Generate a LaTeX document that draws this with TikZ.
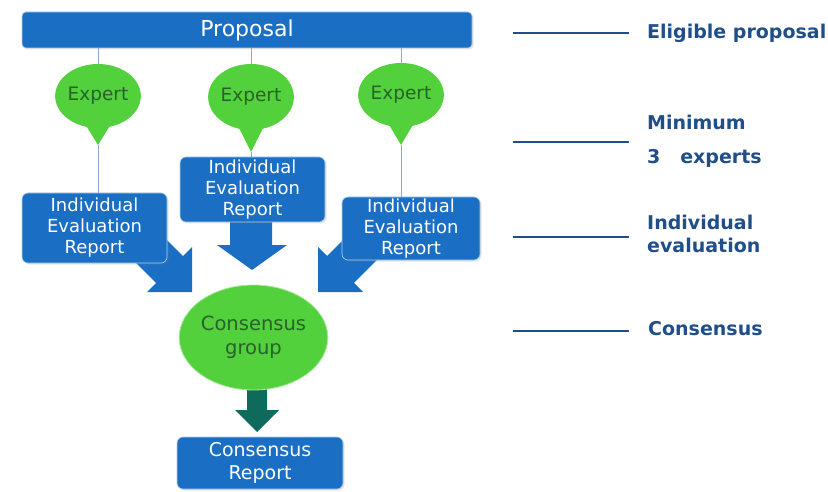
\documentclass[tikz,border=0pt]{standalone}
\usepackage{fontspec}
\setmainfont{DejaVu Sans}
\usepackage{tikz}
\usetikzlibrary{shapes.geometric, positioning, calc, shadows}
\usepackage{xcolor}
\definecolor{myblue}{HTML}{1A6FC4}
\definecolor{mygreen}{HTML}{52D13C}
\definecolor{mydkgreen}{HTML}{28622A}
\definecolor{myteal}{HTML}{0E6B5C}
\definecolor{mynavy}{HTML}{1F4E89}
\definecolor{mygrey}{HTML}{8FA8C6}
\tikzset{
  bluebox/.style={fill=myblue, draw=myblue!35!white, line width=0.6pt, rounded corners=6pt,
    text=white, align=center, inner sep=0pt,
    drop shadow={opacity=0.2, shadow xshift=1.5pt, shadow yshift=-1.5pt},
    font=\fontsize{18}{21}\selectfont},
  expert/.style={ellipse, fill=mygreen, inner sep=0pt, text=mydkgreen,
    minimum width=84pt, minimum height=64pt, font=\fontsize{18.5}{20}\selectfont},
  link/.style={mygrey, line width=0.7pt},
  lvl/.style={mynavy, line width=2.8pt},
  lbl/.style={text=mynavy, anchor=west, align=left, inner sep=0pt,
    font=\bfseries\fontsize{19}{23}\selectfont}
}

\begin{document}
\begin{tikzpicture}[x=1pt, y=-1pt]
	\useasboundingbox (0,0) rectangle (828,492);
	% block arrows into the consensus group
	\fill[myblue] (230,215) -- (230,245) -- (217,245) -- (252,270) -- (287,245) -- (272,245) -- (272,215) -- cycle;
	\fill[myblue] (147.5,220.7) -- (182.9,256.1) -- (192,247) -- (192,292) -- (147,292) -- (156.1,282.9) -- (120.7,247.5) -- cycle;
	\fill[myblue] (362.4,220.7) -- (327.1,256.1) -- (318,247) -- (318,292) -- (363,292) -- (353.9,282.9) -- (389.3,247.5) -- cycle;
	\fill[myteal] (247,380) -- (247,410) -- (235,410) -- (257,432) -- (279,410) -- (267,410) -- (267,380) -- cycle;
	% proposal and experts
	\node[bluebox, rounded corners=4pt, minimum width=450pt, minimum height=36pt,
		font=\fontsize{22}{24}\selectfont] (prop) at (247,30) {Proposal};
	\node[expert] (exp1) at (98,96) {Expert};
	\node[expert, minimum height=66pt] (exp2) at (251,97) {Expert};
	\node[expert] (exp3) at (401,95) {Expert};
	\coordinate (tip1) at (98,145);
	\coordinate (tip2) at (251,152);
	\coordinate (tip3) at (401,145);
	\fill[mygreen] ($(exp1.center)+(-13,28)$) -- (tip1) -- ($(exp1.center)+(13,28)$) -- cycle;
	\fill[mygreen] ($(exp2.center)+(-13,29)$) -- (tip2) -- ($(exp2.center)+(13,29)$) -- cycle;
	\fill[mygreen] ($(exp3.center)+(-13,28)$) -- (tip3) -- ($(exp3.center)+(13,28)$) -- cycle;
	% individual reports
	\node[bluebox, minimum width=145pt, minimum height=70pt] (rep1) at (94.5,228) {Individual\\Evaluation\\Report};
	\node[bluebox, minimum width=145pt, minimum height=65pt] (rep2) at (252.5,189.5) {Individual\\Evaluation\\Report};
	\node[bluebox, minimum width=138pt, minimum height=63pt] (rep3) at (411,228.5) {Individual\\Evaluation\\Report};
	\draw[link] (prop.south -| exp1) -- (exp1.north);
	\draw[link] (prop.south -| exp2) -- (exp2.north);
	\draw[link] (prop.south -| exp3) -- (exp3.north);
	\draw[link] (tip1) -- (tip1 |- rep1.north);
	\draw[link] (tip2) -- (tip2 |- rep2.north);
	\draw[link] (tip3) -- (tip3 |- rep3.north);
	% consensus
	\node[ellipse, fill=mygreen, draw=mygreen!50!white, line width=0.8pt, inner sep=0pt,
		minimum width=133pt, minimum height=105pt, text=mydkgreen, align=center,
		font=\fontsize{19.5}{24}\selectfont] (cg) at (253.5,337.5) {Consensus\\group};
	\node[bluebox, minimum width=166pt, minimum height=52pt, font=\fontsize{19}{23}\selectfont]
		(crep) at (260,463) {Consensus\\Report};
	% stage labels
	\node[lbl] (lelig) at (647,33) {Eligible proposal};
	\node[lbl] (lmin) at (647,141) {Minimum\\[11pt]3\ \ \ experts};
	\node[lbl] (lind) at (647,234) {Individual\\evaluation};
	\node[lbl] (lcons) at (648,329) {Consensus};
	\draw[lvl] ([xshift=-18pt]lelig.west) -- ++(-116,0);
	\draw[lvl] ([xshift=-18pt,yshift=-1pt]lmin.west) -- ++(-116,0);
	\draw[lvl] ([xshift=-18pt,yshift=-3pt]lind.west) -- ++(-116,0);
	\draw[lvl] ([xshift=-19pt,yshift=-2pt]lcons.west) -- ++(-116,0);
\end{tikzpicture}
\end{document}
